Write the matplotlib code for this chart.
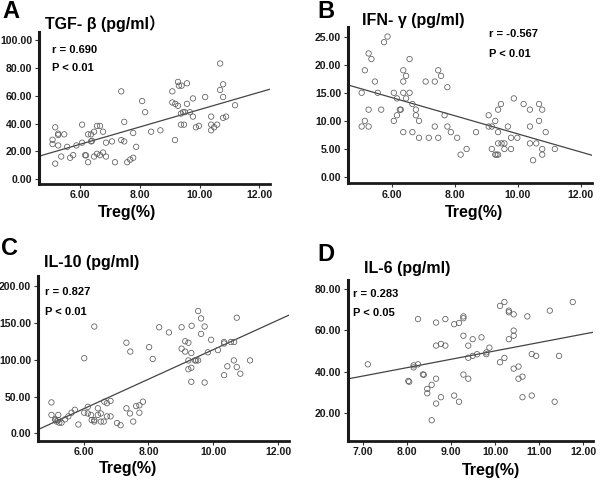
import numpy as np
import matplotlib
matplotlib.use("Agg")
import matplotlib.pyplot as plt

plt.rcParams['font.family'] = ['Liberation Sans', 'Noto Sans CJK SC', 'DejaVu Sans']

# ---------------- data ----------------
a_x = [5.08,5.08,5.17,5.17,5.27,5.27,5.27,5.37,5.47,5.57,5.67,5.77,5.88,6.07,6.07,6.17,6.2,6.27,6.27,6.37,6.37,6.4,
       6.47,6.47,6.57,6.67,6.57,6.67,6.77,6.77,6.87,6.87,7.07,7.17,7.38,7.38,7.48,7.48,7.58,7.68,7.78,7.78,7.88,
       8.08,8.18,8.38,8.69,9.09,9.09,9.18,9.19,9.28,9.28,9.31,9.40,9.38,9.45,9.51,9.38,9.48,9.58,9.58,9.68,9.78,
       9.78,9.88,9.98,10.19,10.39,10.39,10.39,10.49,10.59,10.69,10.69,10.79,10.79,10.79,10.89,11.19]
a_y = [28.3,25.2,37.3,11.1,32.7,31.7,24.2,16.2,32.2,23.2,15.3,17.2,24.2,39.2,26.2,17.2,17.0,12.1,32.2,32.2,27.1,27.5,
       34.1,16.2,38.3,38.3,18.2,17.2,34.1,19.1,26.2,16.2,27.1,12.1,63.2,28.1,41.2,27.1,12.1,14.0,15.3,33.2,23.2,
       56.2,48.2,34.1,35.1,63.2,55.2,28.1,54.2,70.0,52.8,67.3,67.3,47.2,48.2,48.2,39.2,39.2,69.0,54.2,48.2,58.1,
       45.0,37.3,38.3,59.1,45.0,39.2,35.1,37.3,39.2,64.2,83.3,68.3,59.1,44.1,45.0,53.2]

b_x = [5.04,5.04,5.14,5.14,5.26,5.26,5.26,5.35,5.46,5.55,5.66,5.75,5.86,6.06,6.06,6.16,6.16,6.25,6.28,6.36,6.36,
       6.36,6.36,6.45,6.45,6.56,6.56,6.65,6.65,6.76,6.76,6.86,6.86,7.07,7.17,7.36,7.36,7.47,7.47,7.56,7.67,7.76,
       7.76,7.87,8.07,8.18,8.37,8.67,9.07,9.07,9.17,9.17,9.28,9.28,9.32,9.37,9.37,9.37,9.37,9.46,9.48,9.57,9.57,
       9.68,9.78,9.78,9.87,9.98,10.18,10.38,10.38,10.38,10.48,10.58,10.67,10.67,10.77,10.77,10.77,10.88,11.17]
b_y = [15,9,19,10,22,12,9,21,17,15,12,24,25,15,10,14,11,12,12,19,17,
       15,8,18,14,21,15,13,8,12,11,10,7,17,7,17,9,19,7,18,11,16,
       9,8,7,4,5,8,11,9,9,5,10,4,4,12,8,4,6,13,6,6,5,
       9,7,5,14,7,13,12,9,6,3,6,13,10,12,5,4,8,5]

c_x = [5.01,5.01,5.12,5.14,5.17,5.22,5.22,5.25,5.32,5.43,5.53,5.63,5.73,5.84,6.02,6.02,6.13,6.13,6.23,6.25,6.33,
       6.33,6.33,6.44,6.44,6.53,6.53,6.62,6.64,6.72,6.72,6.83,6.83,7.03,7.14,7.32,7.32,7.43,7.44,7.53,7.62,7.72,
       7.72,7.83,8.02,8.13,8.33,8.63,9.02,9.02,9.13,9.13,9.23,9.23,9.23,9.32,9.32,9.32,9.33,9.43,9.47,9.53,9.53,
       9.62,9.62,9.73,9.73,9.83,9.93,10.14,10.33,10.33,10.33,10.43,10.54,10.64,10.63,10.72,10.72,10.83,11.13]
c_y = [42,25,19,18,16,25,18,14.5,14.5,19,23,28,32,12,102,28,36,27,25,18,16,
       18,145,34,25,27,16,16,43,41,23,44,23,14,11,34,123,27,111,16,37,38,
       28,43,117,101,144,137,144,115,125,111,123,99,87,89,109,70,146,99,99,99,166,
       156,135,145,69,110,127,113,122,124,79,91,124,124,99,157,90,81,99]

d_x = [7.11,8.03,8.05,8.15,8.15,8.25,8.25,8.36,8.38,8.46,8.46,8.56,8.56,8.66,8.66,8.66,8.66,8.77,8.77,8.87,
       8.87,9.07,9.07,9.18,9.18,9.28,9.28,9.28,9.28,9.39,9.39,9.39,9.49,9.49,9.59,9.69,9.80,9.80,9.87,10.11,
       10.11,10.21,10.21,10.31,10.31,10.31,10.42,10.42,10.42,10.42,10.53,10.53,10.62,10.62,10.73,10.83,10.83,
       10.93,11.24,11.35,11.45,11.76]
d_y = [43.5,35.4,35.0,43.0,42.0,43.5,65.5,38.6,38.4,31.5,29.4,33.5,16.3,63.8,52.6,36.5,24.4,53.4,27.5,52.6,
       65.5,63.0,28.3,63.6,25.3,66.8,65.9,57.4,38.5,52.6,46.7,36.5,55.7,47.6,48.4,56.6,49.3,48.4,51.6,44.5,
       71.9,73.8,46.6,69.6,68.8,55.7,67.8,59.9,57.4,41.4,42.4,36.5,37.5,27.5,66.8,48.5,28.3,
       47.6,69.6,25.3,47.6,73.8]

letters = ['A', 'B', 'C', 'D']
titles = ['TGF- β (pg/ml）', 'IFN- γ (pg/ml)', 'IL-10 (pg/ml)', 'IL-6 (pg/ml)']
r_text = ['r = 0.690', 'r = -0.567', 'r = 0.827', 'r = 0.283']
p_text = ['P < 0.01', 'P < 0.01', 'P < 0.01', 'P < 0.05']
xlabel = 'Treg(%)'
xticks_abc = [6, 8, 10, 12]
xticks_d = [7, 8, 9, 10, 11, 12]
yticks = [[0, 20, 40, 60, 80, 100], [0, 5, 10, 15, 20, 25],
          [0, 50, 100, 150, 200], [20, 40, 60, 80]]

W, H = 600, 482
fig = plt.figure(figsize=(W / 100, H / 100), dpi=100)

def px(x, y):
    return x / W, 1 - y / H

def add_axes(l, r, t, b):
    return fig.add_axes([l / W, 1 - b / H, (r - l) / W, (b - t) / H])

axA = add_axes(38.5, 270, 32, 184)
axB = add_axes(347.5, 592, 27, 183.3)
axC = add_axes(37.5, 289, 276, 441)
axD = add_axes(347.5, 593, 280, 441)
axes = [axA, axB, axC, axD]
xs = [a_x, b_x, c_x, d_x]
ys = [a_y, b_y, c_y, d_y]
xlims = [(4.61, 12.36), (4.59, 12.35), (4.58, 12.33), (6.65, 12.22)]
ylims = [(-3.6, 106), (-1.1, 26.7), (-10.4, 213.6), (6.2, 84.5)]
xtks = [xticks_abc, xticks_abc, xticks_abc, xticks_d]

dark = '#1a1a1a'
for i, ax in enumerate(axes):
    x = np.array(xs[i]); y = np.array(ys[i])
    ax.scatter(x, y, s=15, facecolors='none', edgecolors='#5a5a5a', linewidths=0.55, zorder=3)
    k, b0 = np.polyfit(x, y, 1)
    xl = np.array(xlims[i])
    ax.plot(xl, k * xl + b0, color='#444444', lw=0.9, zorder=2)
    ax.set_xlim(*xlims[i]); ax.set_ylim(*ylims[i])
    ax.set_xticks(xtks[i]); ax.set_yticks(yticks[i])
    ax.set_xticklabels(['%.2f' % v for v in xtks[i]])
    ax.set_yticklabels(['%.2f' % v for v in yticks[i]])
    for s in ['top', 'right']:
        ax.spines[s].set_visible(False)
    ax.spines['left'].set_linewidth(2.2)
    ax.spines['bottom'].set_linewidth(2.0)
    ax.spines['left'].set_color(dark)
    ax.spines['bottom'].set_color(dark)
    ax.tick_params(direction='out', length=3, width=0.8, color='#333333', pad=1.5,
                   labelsize=7.6, labelcolor=dark)
    for lab in ax.get_xticklabels() + ax.get_yticklabels():
        lab.set_fontweight('bold')
    ax.patch.set_alpha(0)

# panel letters
for letter, (lx, ly) in zip(letters, [(2, 18.5), (317, 18.5), (1, 255), (317, 261)]):
    fig.text(*px(lx, ly), letter, fontsize=17, fontweight='bold', va='baseline', ha='left', color='black')

# titles
for t, (tx, ty) in zip(titles, [(45, 29.5), (362, 24.5), (44, 267), (364, 273.5)]):
    fig.text(*px(tx, ty), t, fontsize=11.5, fontweight='bold', va='baseline', ha='left', color='black')

# r / P annotations
for rt, pt, (ax_, ay1, ay2) in zip(r_text, p_text,
                                   [(52, 50, 68), (489, 34, 54), (45, 292, 312), (353, 294, 313)]):
    fig.text(*px(ax_, ay1), rt, fontsize=8, fontweight='bold', va='center', ha='left', color='black')
    fig.text(*px(ax_, ay2), pt, fontsize=8, fontweight='bold', va='center', ha='left', color='black')

# x labels
for (cx, cy) in [(127, 212), (474, 212), (128, 469), (491, 470)]:
    fig.text(*px(cx, cy), xlabel, fontsize=11.5, fontweight='bold', va='center', ha='center', color='black')

fig.savefig('out.png', dpi=100)
